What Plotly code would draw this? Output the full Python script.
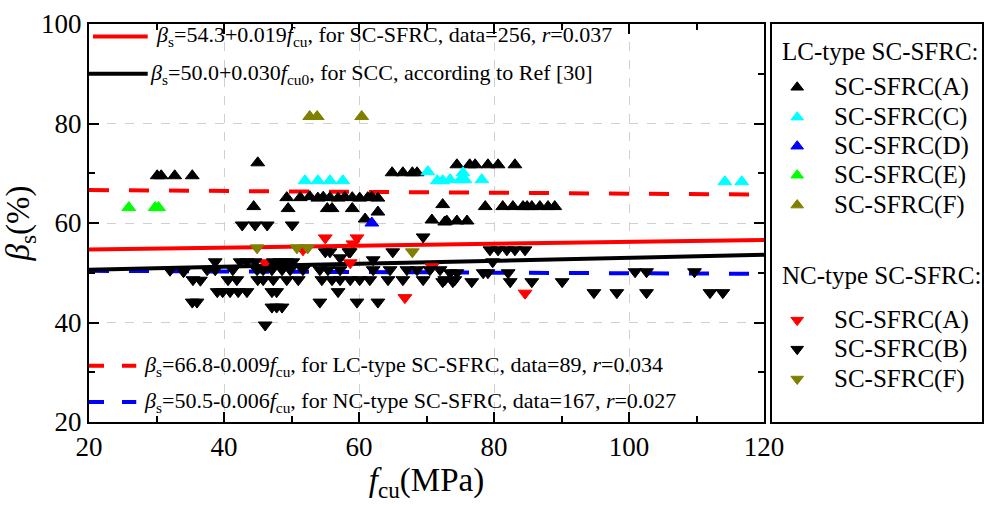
import plotly.graph_objects as go

# ---------------- data ----------------
# LC-type SC-SFRC (up triangles)
lcA_x = [30.1, 30.7, 32.7, 35.3, 45.0, 44.4,
         49.3, 51.3, 52.7, 53.9, 54.7, 55.7, 56.9, 57.9, 59.0, 60.1, 61.3, 61.9, 62.8,
         49.5, 55.3, 56.0, 59.0, 62.8, 60.9,
         64.9, 66.5, 67.9, 68.6, 72.4, 70.8, 72.7,
         74.5, 76.4, 77.2, 79.1, 80.6, 83.1,
         78.7, 81.3, 82.8, 84.3, 84.9, 85.6, 86.8, 88.0, 89.0,
         73.0, 74.5, 76.0]
lcA_y = [69.5, 69.5, 69.5, 69.5, 72.1, 63.3,
         65.1, 65.1, 65.3, 65.0, 65.2, 65.1, 65.0, 65.2, 65.1, 65.0, 65.1, 65.2, 65.0,
         62.9, 62.9, 62.9, 62.9, 62.2, 60.8,
         70.1, 70.1, 70.1, 70.1, 63.7, 60.6, 60.2,
         71.7, 71.7, 71.7, 71.7, 71.7, 71.7,
         63.3, 63.3, 63.3, 63.3, 63.3, 63.3, 63.3, 63.3, 63.3,
         60.4, 60.4, 60.4]
lcC_x = [52.0, 53.9, 55.7, 57.6, 70.2, 71.6, 72.4, 75.4, 73.5, 75.0, 75.7, 78.2, 114.2, 116.7]
lcC_y = [68.5, 68.5, 68.5, 68.5, 70.3, 68.5, 68.5, 70.1, 68.7, 68.7, 68.7, 68.7, 68.3, 68.3]
lcD_x = [61.9]
lcD_y = [60.0]
lcE_x = [25.9, 29.8, 30.3]
lcE_y = [63.1, 63.1, 63.1]
lcF_x = [52.7, 53.8, 60.4]
lcF_y = [81.4, 81.4, 81.4]

# NC-type SC-SFRC (down triangles)
ncA_x = [55.0, 51.7, 59.7, 59.1, 46.1, 58.7, 70.8, 66.8, 84.6]
ncA_y = [57.0, 54.6, 57.0, 55.8, 52.0, 52.0, 51.2, 45.0, 45.9]
ncB_x = [42.7, 44.6, 46.4, 50.1,
         55.0, 55.7, 58.5, 65.0, 69.5,
         79.4, 80.6, 81.9, 83.1, 84.6, 79.8,
         100.9, 102.6, 109.7,
         94.8, 98.2, 102.6, 112.0, 113.9,
         72.4, 73.9, 76.7, 82.4, 85.6, 90.1,
         73.5, 74.5, 78.4, 79.1, 82.1,
         38.7, 42.4, 43.4, 44.6, 47.3, 48.3, 49.3, 50.2, 57.2, 58.7, 62.1,
         37.5, 38.7, 41.3, 44.9, 45.8, 47.1, 48.6, 49.8, 51.7, 54.2, 55.4, 57.2,
         62.1, 64.6, 67.1, 68.6, 70.5, 72.0,
         35.4, 40.6, 41.9, 45.0, 45.8, 47.3, 49.3, 51.0, 54.5, 56.0, 57.2, 58.7,
         60.1, 61.6, 64.3, 66.5, 69.5, 72.7, 74.2,
         39.0, 39.8, 40.9, 42.1, 43.4, 47.1, 47.8, 56.9,
         35.3, 36.0, 54.2, 59.7, 62.8,
         47.1, 47.8, 48.6, 46.1,
         32.0, 34.0, 36.5]
ncB_y = [59.6, 59.6, 59.6, 59.6,
         54.2, 54.2, 54.2, 54.2, 57.2,
         54.6, 54.6, 54.6, 54.6, 54.6, 52.2,
         50.2, 50.2, 50.2,
         46.0, 46.0, 46.0, 46.0, 46.0,
         48.2, 48.2, 48.2, 48.2, 48.2, 48.2,
         50.0, 50.0, 50.0, 50.0, 50.0,
         52.2, 52.2, 52.2, 52.2, 52.2, 52.2, 52.2, 52.2, 53.0, 54.2, 52.6,
         50.6, 50.6, 50.6, 50.6, 50.6, 50.6, 50.6, 50.6, 50.6, 50.6, 50.6, 50.6,
         50.6, 50.6, 50.6, 50.6, 50.6, 50.6,
         48.6, 48.6, 48.6, 48.6, 48.6, 48.6, 48.6, 48.6, 48.6, 48.6, 48.6, 48.6,
         48.6, 48.6, 48.6, 48.6, 48.6, 48.6, 48.6,
         46.2, 46.2, 46.2, 46.2, 46.2, 46.2, 46.2, 46.2,
         44.1, 44.1, 44.1, 44.1, 44.1,
         43.1, 43.1, 43.1, 39.5,
         50.5, 50.2, 48.5]
ncF_x = [44.9, 50.8, 52.4, 67.9]
ncF_y = [55.0, 55.0, 55.0, 54.2]

# regression lines: (intercept, slope)
fit_all = (54.3, 0.019)
fit_scc = (50.0, 0.030)
fit_lc = (66.8, -0.009)
fit_nc = (50.5, -0.006)
fit_x = [20, 120]

# legend content
lc_title = "LC-type SC-SFRC:"
nc_title = "NC-type SC-SFRC:"
lc_names = ["SC-SFRC(A)", "SC-SFRC(C)", "SC-SFRC(D)", "SC-SFRC(E)", "SC-SFRC(F)"]
nc_names = ["SC-SFRC(A)", "SC-SFRC(B)", "SC-SFRC(F)"]

FONT = "Liberation Serif"
BLACK, CYAN, BLUE, GREEN, OLIVE, RED = "#000000", "#00ffff", "#0000ff", "#00ff00", "#808000", "#ff0000"
lc_colors = [BLACK, CYAN, BLUE, GREEN, OLIVE]
nc_colors = [RED, BLACK, OLIVE]

fig = go.Figure()

def line(fit, color, dash):
    a, b = fit
    fig.add_trace(go.Scatter(x=fit_x, y=[a + b * v for v in fit_x], mode="lines",
                             line=dict(color=color, width=4, dash=dash),
                             showlegend=False, hoverinfo="skip"))

line(fit_lc, RED, "20px,20px")
line(fit_nc, BLUE, "20px,20px")
line(fit_all, RED, "solid")
line(fit_scc, BLACK, "solid")

def marker(symbol, size, color):
    return dict(symbol=symbol, size=size, color=color, line=dict(color=color, width=1))

def pts(x, y, color, symbol, name):
    fig.add_trace(go.Scatter(x=x, y=y, mode="markers", name=name, showlegend=False,
                             marker=marker(symbol, 12, color)))

lc_sets = [(lcA_x, lcA_y), (lcC_x, lcC_y), (lcD_x, lcD_y), (lcE_x, lcE_y), (lcF_x, lcF_y)]
nc_sets = [(ncA_x, ncA_y), (ncB_x, ncB_y), (ncF_x, ncF_y)]
for (x, y), c, n in zip(lc_sets, lc_colors, lc_names):
    pts(x, y, c, "triangle-up", n)
for (x, y), c, n in zip(nc_sets, nc_colors, nc_names):
    pts(x, y, c, "triangle-down", n)

# in-plot legend for the fitted lines
samples = [
    (20.6, 28.7, 97.5, RED, "solid",
     "<i>β</i><sub>s</sub>=54.3+0.019<i>f</i><sub>cu</sub>, for SC-SFRC, data=256, <i>r</i>=0.037", 29.6),
    (20.0, 28.7, 90.0, BLACK, "solid",
     "<i>β</i><sub>s</sub>=50.0+0.030<i>f</i><sub>cu0</sub>, for SCC, according to Ref [30]", 28.7),
    (20.0, 27.0, 31.3, RED, "15px,18px",
     "<i>β</i><sub>s</sub>=66.8-0.009<i>f</i><sub>cu</sub>, for LC-type SC-SFRC, data=89, <i>r</i>=0.034", 27.8),
    (20.0, 27.0, 24.0, BLUE, "15px,18px",
     "<i>β</i><sub>s</sub>=50.5-0.006<i>f</i><sub>cu</sub>, for NC-type SC-SFRC, data=167, <i>r</i>=0.027", 27.8),
]
for x0, x1, yv, col, dash, txt, tx in samples:
    fig.add_shape(type="line", xref="x", yref="y", x0=x0, x1=x1, y0=yv, y1=yv,
                  line=dict(color=col, width=4, dash=dash))
    fig.add_annotation(x=tx, y=yv, xref="x", yref="y", text=txt, showarrow=False,
                       xanchor="left", yanchor="middle",
                       font=dict(family=FONT, size=22, color="#000"))

# ---- manual legend panel on its own axes (0..1 box, y measured from top) ----
lc_rows = [0.159, 0.234, 0.307, 0.380, 0.455]
nc_rows = [0.744, 0.817, 0.892]
sym_x = 0.12
txt_x = 0.285
fig.add_trace(go.Scatter(x=[sym_x] * len(lc_rows), y=lc_rows, mode="markers", xaxis="x2", yaxis="y2",
                         showlegend=False, hoverinfo="skip",
                         marker=marker("triangle-up", 11, lc_colors)))
fig.add_trace(go.Scatter(x=[sym_x] * len(nc_rows), y=nc_rows, mode="markers", xaxis="x2", yaxis="y2",
                         showlegend=False, hoverinfo="skip",
                         marker=marker("triangle-down", 11, nc_colors)))
fig.add_annotation(x=0.04, y=0.07, xref="x2", yref="y2", text=lc_title, showarrow=False,
                   xanchor="left", yanchor="middle", font=dict(family=FONT, size=25, color="#000"))
fig.add_annotation(x=0.04, y=0.633, xref="x2", yref="y2", text=nc_title, showarrow=False,
                   xanchor="left", yanchor="middle", font=dict(family=FONT, size=25, color="#000"))
for rows, names in ((lc_rows, lc_names), (nc_rows, nc_names)):
    for yv, n in zip(rows, names):
        fig.add_annotation(x=txt_x, y=yv, xref="x2", yref="y2", text=n, showarrow=False,
                           xanchor="left", yanchor="middle", font=dict(family=FONT, size=25, color="#000"))

axis_common = dict(
    showline=True, linecolor="#000", linewidth=2, mirror="ticks", automargin=False,
    ticks="inside", ticklen=10, tickwidth=2, tickcolor="#000",
    showgrid=True, gridcolor="#d0d0d0", griddash="dash", gridwidth=1,
    zeroline=False, tickfont=dict(family=FONT, size=27, color="#000"),
    minor=dict(ticks="inside", ticklen=6, tickwidth=1.5, tickcolor="#000", showgrid=False),
)
panel_axis = dict(showgrid=False, zeroline=False, showticklabels=False, ticks="", automargin=False,
                  showline=True, mirror=True, linecolor="#000", linewidth=1.5, fixedrange=True)
PW = 984 - 89 - 2  # paper width in px
fig.update_layout(
    width=984, height=508,
    margin=dict(l=89, r=2, t=24, b=86, autoexpand=False),
    plot_bgcolor="white", paper_bgcolor="white",
    font=dict(family=FONT, color="#000"),
    showlegend=False,
    xaxis=dict(domain=[0, 675 / PW], range=[20, 120], tickvals=[20, 40, 60, 80, 100, 120],
               minor_dtick=10,
               title=dict(text="<i>f</i><sub>cu</sub>(MPa)", font=dict(family=FONT, size=33, color="#000"),
                          standoff=4),
               **axis_common),
    yaxis=dict(range=[20, 100], tickvals=[20, 40, 60, 80, 100], minor_dtick=10,
               title=dict(text="<i>β</i><sub>s</sub>(%)", font=dict(family=FONT, size=33, color="#000"),
                          standoff=2),
               **axis_common),
    xaxis2=dict(domain=[(772 - 89) / PW, (982 - 89) / PW], range=[0, 1], anchor="y2", **panel_axis),
    yaxis2=dict(domain=[0, 1], range=[1, 0], anchor="x2", **panel_axis),
)

fig.write_html("out.html")
